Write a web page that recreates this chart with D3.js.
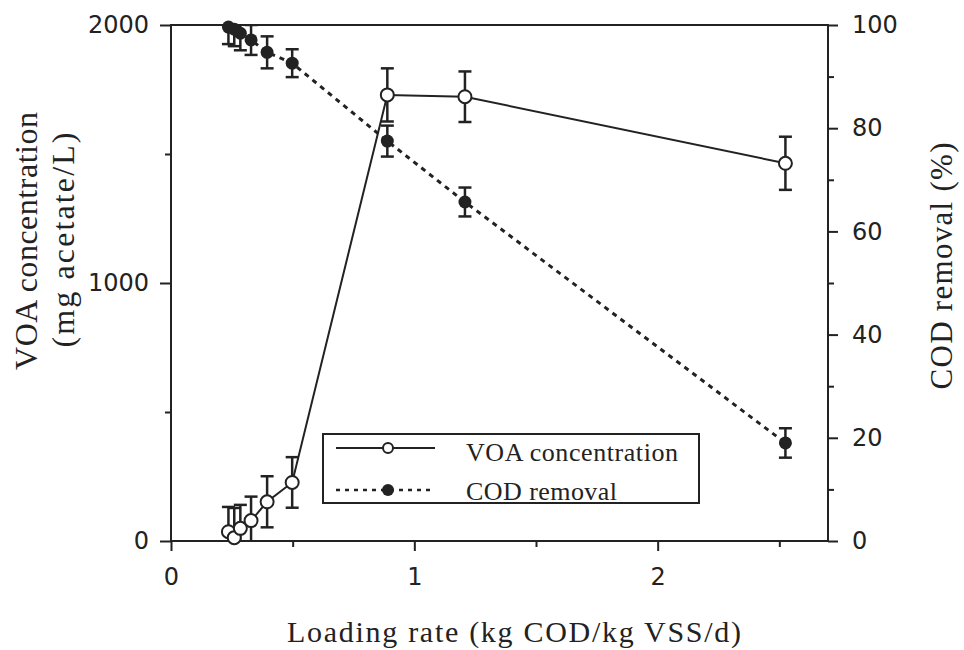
<!DOCTYPE html>
<html>
<head>
<meta charset="utf-8">
<script src="https://cdn.jsdelivr.net/npm/d3@7"></script>
<style>
  body { margin: 0; background: #fff; }
  svg { display: block; }
  .tick text { font-family: "DejaVu Sans", Verdana, sans-serif; font-size: 24px; fill: #222; }
  .title { font-family: "Liberation Serif", "Times New Roman", serif; fill: #222; }
</style>
</head>
<body>
<div id="chart"></div>
<script>
        // Loading rate (kg COD/kg VSS/d) for each run
        const loading = [0.236, 0.26, 0.285, 0.329, 0.395, 0.498, 0.889, 1.208, 2.525];
        // VOA concentration (mg acetate/L) and its error
        const voa = [36, 13, 49, 79, 152, 227, 1729, 1722, 1464];
        const voaErr = [96, 115, 91, 93, 99, 98, 103, 98, 103];
        // COD removal (%) and its error
        const cod = [99.6, 99.2, 98.4, 97.1, 94.7, 92.6, 77.5, 65.7, 19.0];
        const codErr = [3.3, 3.3, 3.3, 2.9, 3.1, 2.7, 3.0, 2.8, 2.85];

        const xTicks = [0, 1, 2], xMinor = [0.5, 1.5, 2.5];
        const voaTicks = [0, 1000, 2000], voaMinor = [500, 1500];
        const codTicks = [0, 20, 40, 60, 80, 100], codMinor = [10, 30, 50, 70, 90];

        const W = 964, H = 650;
        const margin = { top: 25, right: 136, bottom: 109, left: 171 };
        const width = W - margin.left - margin.right;
        const height = H - margin.top - margin.bottom;
        const ink = "#222";

        const svg = d3.select("#chart").append("svg")
            .attr("width", W)
            .attr("height", H);

        const g = svg.append("g")
            .attr("transform", `translate(${margin.left},${margin.top})`);

        const x = d3.scaleLinear().domain([0, 2.7]).range([0, width]);
        const yL = d3.scaleLinear().domain([0, 2000]).range([height, 0]);
        const yR = d3.scaleLinear().domain([0, 100]).range([height, 0]);

        svg.append("defs").append("clipPath").attr("id", "plot-clip")
            .append("rect").attr("width", width).attr("height", height);

        const styleAxis = sel => {
            sel.select(".domain").remove();
            sel.selectAll(".tick line").attr("stroke", ink).attr("stroke-width", 2);
        };

        // frame: bottom, left, right and top lines
        g.append("rect")
            .attr("width", width).attr("height", height)
            .attr("fill", "none").attr("stroke", ink).attr("stroke-width", 2);

        // x axis
        g.append("g").attr("transform", `translate(0,${height})`)
            .call(d3.axisBottom(x).tickValues(xTicks).tickSize(10).tickPadding(17).tickFormat(d3.format("d")))
            .call(styleAxis);
        g.append("g").attr("transform", `translate(0,${height})`)
            .call(d3.axisBottom(x).tickValues(xMinor).tickSize(6).tickFormat(""))
            .call(styleAxis);

        // left axis
        g.append("g")
            .call(d3.axisLeft(yL).tickValues(voaTicks).tickSize(11).tickPadding(11).tickFormat(d3.format("d")))
            .call(styleAxis);
        g.append("g")
            .call(d3.axisLeft(yL).tickValues(voaMinor).tickSize(6).tickFormat(""))
            .call(styleAxis);

        // right axis
        g.append("g").attr("transform", `translate(${width},0)`)
            .call(d3.axisRight(yR).tickValues(codTicks).tickSize(10).tickPadding(14).tickFormat(d3.format("d")))
            .call(styleAxis);
        g.append("g").attr("transform", `translate(${width},0)`)
            .call(d3.axisRight(yR).tickValues(codMinor).tickSize(6).tickFormat(""))
            .call(styleAxis);

        const voaData = loading.map((d, i) => ({ x: d, y: voa[i], e: voaErr[i] }));
        const codData = loading.map((d, i) => ({ x: d, y: cod[i], e: codErr[i] }));

        const plot = g.append("g");

        // connecting lines
        plot.append("path")
            .datum(codData)
            .attr("fill", "none").attr("stroke", ink).attr("stroke-width", 3)
            .attr("stroke-dasharray", "5,5")
            .attr("d", d3.line().x(d => x(d.x)).y(d => yR(d.y)));

        plot.append("path")
            .datum(voaData)
            .attr("fill", "none").attr("stroke", ink).attr("stroke-width", 2)
            .attr("d", d3.line().x(d => x(d.x)).y(d => yL(d.y)));

        // error bars, clipped to the plotting area
        const drawErrors = (data, y) => {
            const eg = plot.append("g").attr("clip-path", "url(#plot-clip)")
                .selectAll("g").data(data).enter().append("g")
                .attr("stroke", ink).attr("stroke-width", 2.5);
            eg.append("line")
                .attr("x1", d => x(d.x)).attr("x2", d => x(d.x))
                .attr("y1", d => y(d.y - d.e)).attr("y2", d => y(d.y + d.e));
            [1, -1].forEach(s => {
                eg.append("line")
                    .attr("x1", d => x(d.x) - 6.5).attr("x2", d => x(d.x) + 6.5)
                    .attr("y1", d => y(d.y + s * d.e)).attr("y2", d => y(d.y + s * d.e));
            });
        };
        drawErrors(codData, yR);
        drawErrors(voaData, yL);

        // markers
        plot.append("g").selectAll("circle").data(codData).enter().append("circle")
            .attr("cx", d => x(d.x)).attr("cy", d => yR(d.y))
            .attr("r", 6.5).attr("fill", ink);

        plot.append("g").selectAll("circle").data(voaData).enter().append("circle")
            .attr("cx", d => x(d.x)).attr("cy", d => yL(d.y))
            .attr("r", 6.5).attr("fill", "#fff").attr("stroke", ink).attr("stroke-width", 2);

        // legend
        const lg = svg.append("g").attr("transform", "translate(323,434)");
        lg.append("rect").attr("width", 376).attr("height", 69)
            .attr("fill", "#fff").attr("stroke", ink).attr("stroke-width", 2);

        lg.append("line").attr("x1", 13).attr("x2", 112).attr("y1", 14).attr("y2", 14)
            .attr("stroke", ink).attr("stroke-width", 2);
        lg.append("circle").attr("cx", 65).attr("cy", 14).attr("r", 5)
            .attr("fill", "#fff").attr("stroke", ink).attr("stroke-width", 2);
        lg.append("text").attr("class", "title").attr("x", 143).attr("y", 27)
            .attr("font-size", 26).attr("textLength", 212).attr("lengthAdjust", "spacing")
            .text("VOA  concentration");

        lg.append("line").attr("x1", 13).attr("x2", 112).attr("y1", 56).attr("y2", 56)
            .attr("stroke", ink).attr("stroke-width", 2.5).attr("stroke-dasharray", "4,5");
        lg.append("circle").attr("cx", 65).attr("cy", 56).attr("r", 6).attr("fill", ink);
        lg.append("text").attr("class", "title").attr("x", 143).attr("y", 66)
            .attr("font-size", 26).attr("textLength", 151).attr("lengthAdjust", "spacing")
            .text("COD  removal");

        // axis titles
        svg.append("text").attr("class", "title")
            .attr("x", 514).attr("y", 642).attr("text-anchor", "middle")
            .attr("font-size", 30).attr("textLength", 454).attr("lengthAdjust", "spacing")
            .text("Loading rate (kg COD/kg VSS/d)");

        svg.append("text").attr("class", "title")
            .attr("transform", "translate(37,241) rotate(-90)").attr("text-anchor", "middle")
            .attr("font-size", 32).attr("textLength", 258).attr("lengthAdjust", "spacing")
            .text("VOA concentration");
        svg.append("text").attr("class", "title")
            .attr("transform", "translate(74,240) rotate(-90)").attr("text-anchor", "middle")
            .attr("font-size", 32).attr("textLength", 215).attr("lengthAdjust", "spacing")
            .text("(mg acetate/L)");

        svg.append("text").attr("class", "title")
            .attr("transform", "translate(952,266) rotate(-90)").attr("text-anchor", "middle")
            .attr("font-size", 31).attr("textLength", 247).attr("lengthAdjust", "spacing")
            .text("COD removal (%)");
</script>
</body>
</html>
